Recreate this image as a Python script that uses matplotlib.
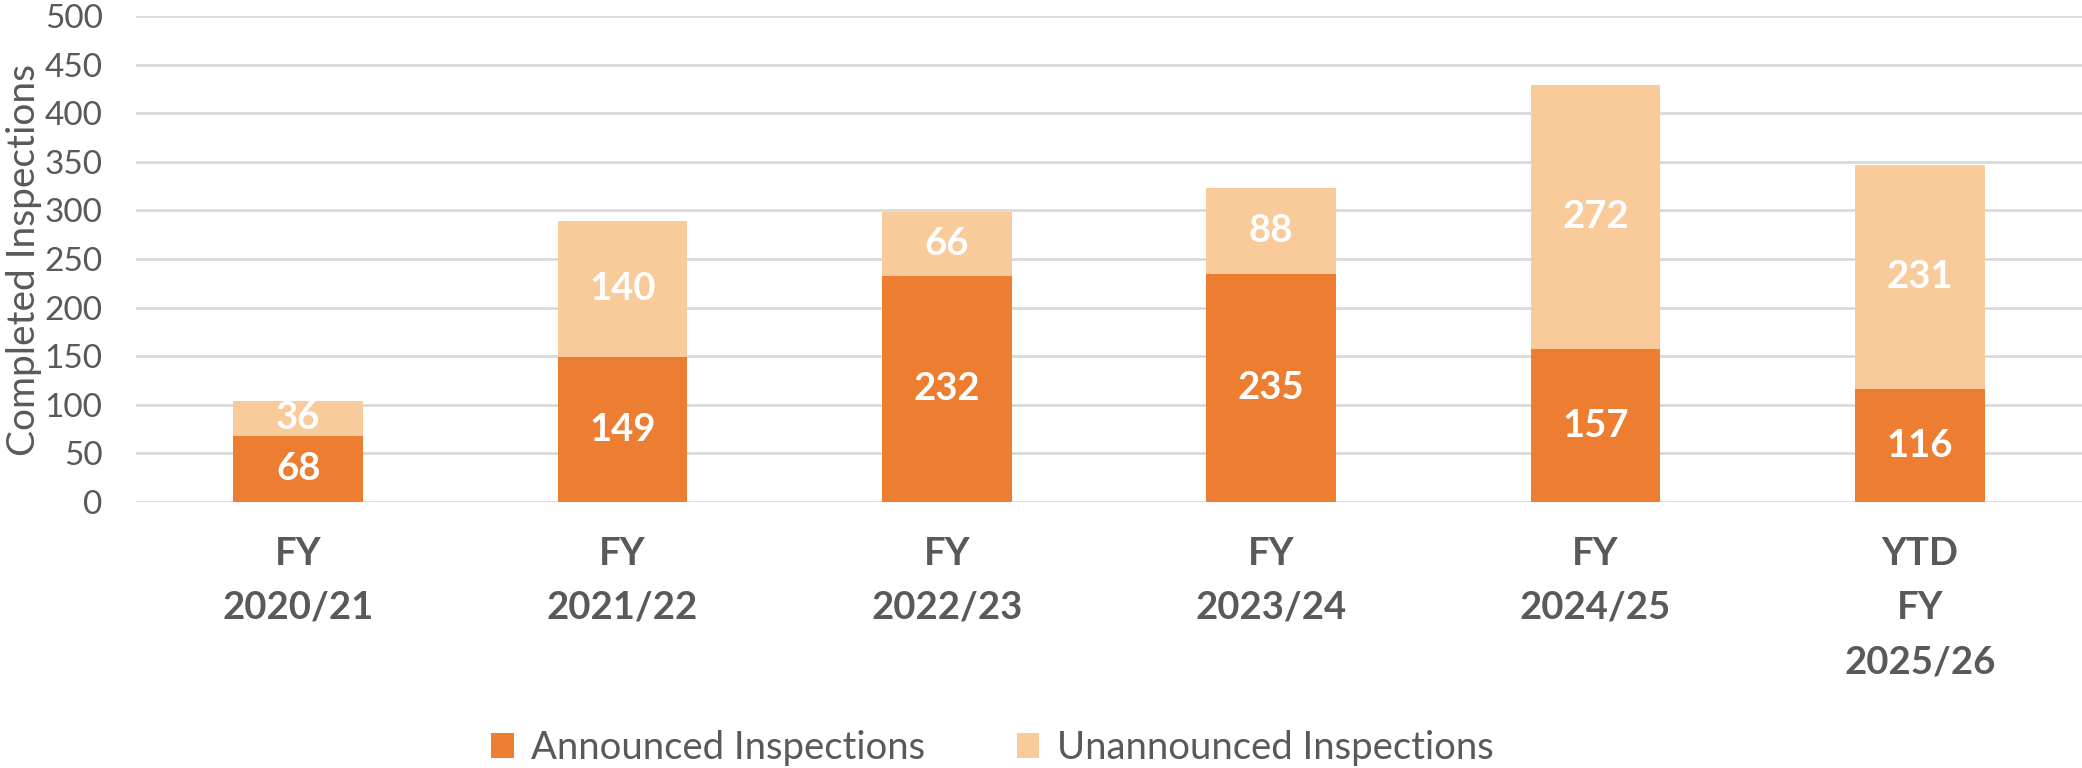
import matplotlib
matplotlib.use("Agg")
import matplotlib.pyplot as plt
import numpy as np

# data
years = ["FY\n2020/21", "FY\n2021/22", "FY\n2022/23", "FY\n2023/24", "FY\n2024/25", "YTD\nFY\n2025/26"]
announced = [68, 149, 232, 235, 157, 116]
unannounced = [36, 140, 66, 88, 272, 231]

plt.rcParams['font.family'] = ['Lato', 'DejaVu Sans']
grey = '#595959'
c_ann = '#ED7D31'
c_unann = '#F9CB9A'

fig = plt.figure(figsize=(20.82, 7.68), dpi=100)
ax = fig.add_axes([136/2082, 1 - 502/768, 1 - 136/2082, (502 - 16)/768])

x = np.arange(len(years))
w = 0.4
b1 = ax.bar(x, announced, w, color=c_ann, label='Announced Inspections', zorder=3)
b2 = ax.bar(x, unannounced, w, bottom=announced, color=c_unann, label='Unannounced Inspections', zorder=3)

# labels in the middle of each segment
for i in range(len(x)):
    ax.text(x[i], announced[i] / 2, str(announced[i]), ha='center', va='center',
            color='white', fontsize=27.5, fontweight='bold', zorder=4)
    ax.text(x[i], announced[i] + unannounced[i] / 2, str(unannounced[i]), ha='center', va='center',
            color='white', fontsize=27.5, fontweight='bold', zorder=4)

ax.set_xlim(-0.5, 5.5)
ax.set_ylim(0, 500)
ax.set_yticks(range(0, 501, 50))
ax.yaxis.grid(True, color='#D9D9D9', linewidth=2, zorder=0)
for s in ax.spines.values():
    s.set_visible(False)
ax.tick_params(axis='both', length=0)
ax.tick_params(axis='y', labelsize=24, labelcolor=grey, pad=24)
ax.set_xticks(x)
ax.set_xticklabels(years, fontsize=27.5, fontweight='bold', color=grey, linespacing=1.72)
ax.tick_params(axis='x', pad=25)

# y-aksens titel
fig.text(24/2082, 1 - 260/768, 'Completed Inspections', rotation=90, ha='center', va='center',
         fontsize=28, color=grey)

fig.legend(handles=[b1, b2], loc='center', bbox_to_anchor=(992/2082, 20/768), ncol=2,
           frameon=False, fontsize=27.5, labelcolor=grey, handlelength=0.6, handleheight=0.6,
           columnspacing=2.4, handletextpad=0.45, borderpad=0, borderaxespad=0)

fig.savefig('out.png', dpi=100)
